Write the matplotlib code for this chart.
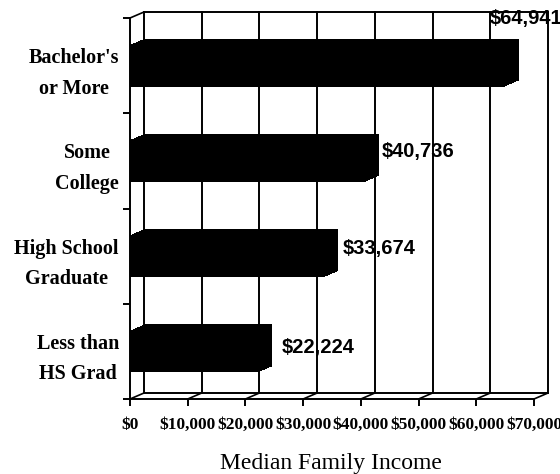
import matplotlib
matplotlib.use("Agg")
import matplotlib.pyplot as plt
import matplotlib.transforms as mtransforms
from matplotlib.patches import ConnectionPatch, Rectangle

# Data
categories = ["Bachelor's\nor More", "Some\nCollege", "High School\nGraduate", "Less than\nHS Grad"]
incomes = [64941, 40736, 33674, 22224]
x_ticks = [0, 10000, 20000, 30000, 40000, 50000, 60000, 70000]
x_tick_labels = ["$0", "$10,000", "$20,000", "$30,000", "$40,000", "$50,000", "$60,000", "$70,000"]
x_title = "Median Family Income"

# Layout (pixels at dpi 100)
W, H = 560, 474
DX, DY = 14, 6            # depth offset of the back wall
BAR_H = 0.44
SERIF = "Liberation Serif"
SANS = "Liberation Sans"
# label offsets (pixels) from the back end of each bar
label_offsets = [(-29, 41), (3, 3), (4, 2), (9, -2)]

fig = plt.figure(figsize=(W / 100, H / 100), dpi=100)
ax = fig.add_axes([130 / W, 1 - 399 / H, 404 / W, 381 / H])

n = len(categories)
ax.set_xlim(0, 70000)
ax.set_ylim(n - 0.5, -0.5)

back = ax.transData + mtransforms.ScaledTranslation(DX / 100, DY / 100, fig.dpi_scale_trans)

# Back wall and gridlines
ax.add_patch(Rectangle((0, -0.5), 70000, n, transform=back, fill=False,
                       edgecolor="black", lw=1.4, clip_on=False, zorder=1))
for x in x_ticks[1:-1]:
    ax.plot([x, x], [-0.5, n - 0.5], transform=back, color="black", lw=1.4,
            clip_on=False, zorder=1)

# Floor diagonals and top-left corner
for x in x_ticks:
    ax.add_artist(ConnectionPatch((x, n - 0.5), (x, n - 0.5), coordsA=ax.transData,
                                  coordsB=back, color="black", lw=1.2, zorder=1))
ax.add_artist(ConnectionPatch((0, -0.5), (0, -0.5), coordsA=ax.transData,
                              coordsB=back, color="black", lw=1.2, zorder=1))

# 3D bars: stack copies from front face to back face
ypos = list(range(n))
steps = 20
for k in range(steps + 1):
    f = k / steps
    tr = ax.transData + mtransforms.ScaledTranslation(f * DX / 100, f * DY / 100, fig.dpi_scale_trans)
    ax.barh(ypos, incomes, height=BAR_H, color="black", lw=0, transform=tr,
            clip_on=False, zorder=2)

# Value labels
for i, v in enumerate(incomes):
    ox, oy = label_offsets[i]
    ax.annotate(f"${v:,}", xy=(v, i), xycoords=back, xytext=(ox, oy),
                textcoords="offset pixels", ha="left", va="center",
                fontsize=14.5, fontweight="bold", family=SANS, zorder=4,
                annotation_clip=False)

# Axes
for s in ["top", "right"]:
    ax.spines[s].set_visible(False)
for s in ["left", "bottom"]:
    ax.spines[s].set_linewidth(1.4)

ax.set_xticks(x_ticks)
ax.set_xticklabels(x_tick_labels, fontsize=12.5, fontweight="bold", family=SERIF)
ax.tick_params(axis="x", length=5, width=1.4, pad=8, direction="out")

ax.set_yticks([i - 0.5 for i in range(n + 1)])
ax.set_yticklabels([])
ax.set_yticks(ypos, minor=True)
ax.set_yticklabels(categories, minor=True, fontsize=14.5, fontweight="bold",
                   family=SERIF, multialignment="center", linespacing=1.7)
ax.tick_params(axis="y", which="major", length=5, width=1.4, direction="out")
ax.tick_params(axis="y", which="minor", length=0, pad=8)

ax.set_xlabel(x_title, fontsize=17, family=SERIF)
ax.xaxis.label.set_va("center")
ax.xaxis.set_label_coords((331 - 130) / 404, -(464 - 399) / 381)

fig.savefig("out.png", dpi=100)
